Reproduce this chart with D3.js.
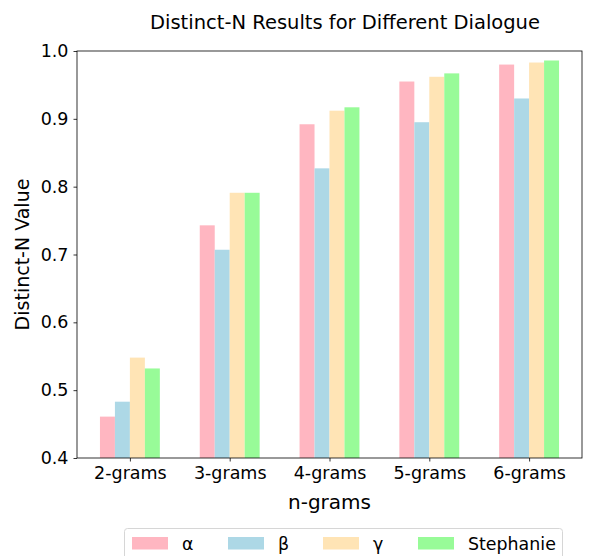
<!DOCTYPE html>
<html><head><meta charset="utf-8">
<script src="https://cdn.jsdelivr.net/npm/d3@7"></script>
<style>body{margin:0;background:#fff}svg{display:block;font-family:"DejaVu Sans",sans-serif}</style>
</head><body><svg id="c" width="611" height="556"></svg>
<script>
const categories = ["2-grams","3-grams","4-grams","5-grams","6-grams"];
const seriesNames = ["α","β","γ","Stephanie"];
const alphaVals = [0.461,0.743,0.892,0.955,0.980];
const betaVals = [0.483,0.707,0.827,0.895,0.930];
const gammaVals = [0.548,0.791,0.912,0.962,0.983];
const stephanieVals = [0.532,0.791,0.917,0.967,0.986];
const yTicks = [0.4,0.5,0.6,0.7,0.8,0.9,1.0];
const colors = ["#FFB6C1","#ADD8E6","#FFE4B5","#98FB98"];
const series = [alphaVals,betaVals,gammaVals,stephanieVals];

const svg = d3.select("#c");
const L=77,R=582,T=51,B=458;
const x = d3.scaleLinear().domain([-0.53,4.53]).range([L,R]);
const y = d3.scaleLinear().domain([0.4,1.0]).range([B,T]);
const bw = 0.15;

series.forEach((vals,si)=>{
  svg.append("g").selectAll("rect").data(vals).join("rect")
    .attr("x",(d,i)=>x(i-0.3+si*bw))
    .attr("width",x(bw)-x(0))
    .attr("y",d=>y(d))
    .attr("height",d=>y(0.4)-y(d))
    .attr("fill",colors[si]);
});

const fs=17.5;
const xAxis = d3.axisBottom(x).tickValues(d3.range(categories.length)).tickFormat(i=>categories[i]).tickSize(3.5).tickPadding(5);
const gx = svg.append("g").attr("transform",`translate(0,${B})`).call(xAxis);
const yAxis = d3.axisLeft(y).tickValues(yTicks).tickFormat(d3.format(".1f")).tickSize(3.5).tickPadding(5);
const gy = svg.append("g").attr("transform",`translate(${L},0)`).call(yAxis);
[gx,gy].forEach(g=>{
  g.select(".domain").remove();
  g.selectAll(".tick line").attr("stroke","#000").attr("stroke-width",0.8);
  g.selectAll(".tick text").attr("fill","#000").attr("font-size",fs).attr("font-family","DejaVu Sans");
});
svg.append("rect").attr("x",L).attr("y",T).attr("width",R-L).attr("height",B-T)
  .attr("fill","none").attr("stroke","#000").attr("stroke-width",0.8);

svg.append("text").attr("x",345).attr("y",29).attr("text-anchor","middle")
  .attr("font-size",19.5).text("Distinct-N Results for Different Dialogue");
svg.append("text").attr("x",(L+R)/2).attr("y",509).attr("text-anchor","middle")
  .attr("font-size",20).text("n-grams");
svg.append("text").attr("transform",`translate(29,${(T+B)/2}) rotate(-90)`).attr("text-anchor","middle")
  .attr("font-size",19).text("Distinct-N Value");

// legend
const lg = svg.append("g");
lg.append("rect").attr("x",124.5).attr("y",528.5).attr("width",438).attr("height",40).attr("rx",3)
  .attr("fill","#fff").attr("stroke","#d6d6d6").attr("stroke-width",1);
const lx=[132,228,323,418];
seriesNames.forEach((n,i)=>{
  lg.append("rect").attr("x",lx[i]).attr("y",537).attr("width",36).attr("height",12.5).attr("fill",colors[i]);
  lg.append("text").attr("x",lx[i]+50).attr("y",549.5).attr("font-size",17.4).text(n);
});
</script></body></html>
